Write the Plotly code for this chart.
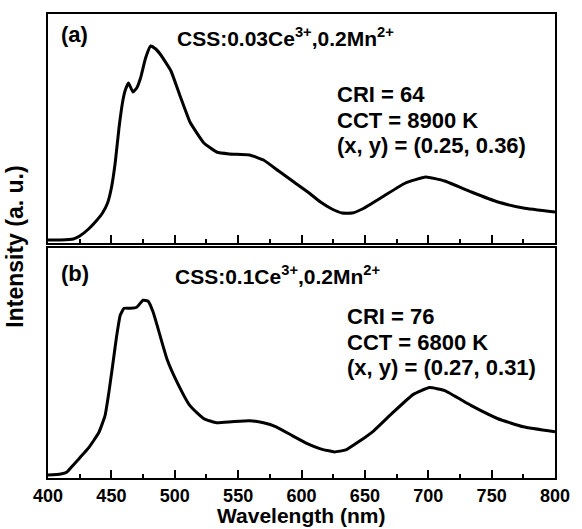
import plotly.graph_objects as go
from plotly.subplots import make_subplots

# Panel (a): CSS:0.03Ce3+,0.2Mn2+
wl_a = [400, 410, 420, 425, 432, 438, 443, 447, 450, 453, 456, 459, 461, 463.5, 467, 470,
        473, 477, 481, 485, 489, 497, 504.5, 512, 523, 533, 543, 559, 570, 582, 594, 605,
        615, 624, 632, 640, 648, 656, 665, 682, 698, 713, 734, 755, 775, 800]
int_a = [3, 3, 4, 7, 14, 22, 30, 40, 55, 80, 115, 142, 153, 160, 151, 155,
         165, 185, 197, 194, 188, 172, 146, 121, 100, 91, 89, 88, 83, 72, 61, 51,
         41, 34, 30, 30, 34, 40, 47, 60, 66, 62, 51, 41, 35, 31]

# Panel (b): CSS:0.1Ce3+,0.2Mn2+
wl_b = [400, 410, 415, 420, 425, 432, 440, 445, 448, 451, 454, 457, 460, 465, 470, 475,
        479, 483, 487, 494, 502, 512, 523, 533, 545, 559, 570, 580, 593, 605, 615, 626,
        635, 645, 657, 672, 688, 701, 713, 734, 755, 775, 800]
int_b = [3, 4, 6, 13, 20, 30, 45, 62, 85, 112, 140, 162, 169, 169, 170, 177,
         176, 165, 148, 118, 95, 72, 59, 55, 56, 57, 55, 51, 42, 34, 29, 26,
         28, 36, 47, 65, 83, 90, 87, 72, 59, 51, 46]

x_ticks = [400, 450, 500, 550, 600, 650, 700, 750, 800]
labels_a = ["(a)", "CSS:0.03Ce<sup>3+</sup>,0.2Mn<sup>2+</sup>",
            "CRI = 64", "CCT = 8900 K", "(x, y) = (0.25, 0.36)"]
labels_b = ["(b)", "CSS:0.1Ce<sup>3+</sup>,0.2Mn<sup>2+</sup>",
            "CRI = 76", "CCT = 6800 K", "(x, y) = (0.27, 0.31)"]

FONT = "Liberation Sans, Arial, sans-serif"
W, H = 582, 529
L, R, T, B = 48, 17, 14, 51
PW, PH = W - L - R, H - T - B

def px(x):
    return (x - L) / PW

def py(y):
    return (H - B - y) / PH

fig = make_subplots(rows=2, cols=1, shared_xaxes=False, vertical_spacing=0)
for wl, it, r in [(wl_a, int_a, 1), (wl_b, int_b, 2)]:
    fig.add_trace(go.Scatter(x=wl, y=it, mode="lines",
                             line=dict(color="black", width=3, shape="spline", smoothing=0.4),
                             showlegend=False), row=r, col=1)

xcommon = dict(range=[400, 800], tickvals=x_ticks, ticks="inside", ticklen=8, tickwidth=1.5,
               tickcolor="black", showline=True, linecolor="black", linewidth=2, mirror=True,
               showgrid=False, zeroline=False,
               minor=dict(ticks="inside", ticklen=4, tickwidth=1.5, dtick=25, tick0=400,
                          tickcolor="black", showgrid=False))
ycommon = dict(range=[0, 229], showticklabels=False, ticks="", showline=True, linecolor="black",
               linewidth=2, mirror=True, showgrid=False, zeroline=False)

fig.update_layout(
    width=W, height=H, margin=dict(l=L, r=R, t=T, b=B),
    paper_bgcolor="white", plot_bgcolor="white",
    font=dict(family=FONT, color="black", size=18, weight="bold"),
    xaxis=dict(xcommon, showticklabels=False, domain=[0, 1]),
    xaxis2=dict(xcommon, showticklabels=True, domain=[0, 1],
                tickfont=dict(family=FONT, size=18, weight="bold", color="black")),
    yaxis=dict(ycommon, domain=[py(243), 1]),
    yaxis2=dict(ycommon, domain=[0, py(248)]),
)

ann = []
def add(text, x, y, size, xanchor="left"):
    ann.append(dict(text=text, x=px(x), y=py(y), xref="paper", yref="paper",
                    xanchor=xanchor, yanchor="middle", showarrow=False,
                    font=dict(family=FONT, size=size, weight="bold", color="black")))

add(labels_a[0], 59, 35, 22)
add(labels_a[1], 178, 37, 21)
add(labels_a[2], 341, 94, 22)
add(labels_a[3], 341, 120, 22)
add(labels_a[4], 341, 146, 22)
add(labels_b[0], 59, 273, 22)
add(labels_b[1], 175, 275, 21)
add(labels_b[2], 351, 317, 22)
add(labels_b[3], 351, 342, 22)
add(labels_b[4], 351, 367, 22)
ann.append(dict(text="Wavelength (nm)", x=px(306), y=py(529), xref="paper", yref="paper",
                xanchor="center", yanchor="bottom", showarrow=False,
                font=dict(family=FONT, size=21, weight="bold", color="black")))
ann.append(dict(text="Intensity (a. u.)", x=px(14), y=py(247), xref="paper", yref="paper",
                xanchor="center", yanchor="middle", showarrow=False, textangle=-90,
                font=dict(family=FONT, size=23, weight="bold", color="black")))
fig.update_layout(annotations=ann)

fig.write_html("out.html")
